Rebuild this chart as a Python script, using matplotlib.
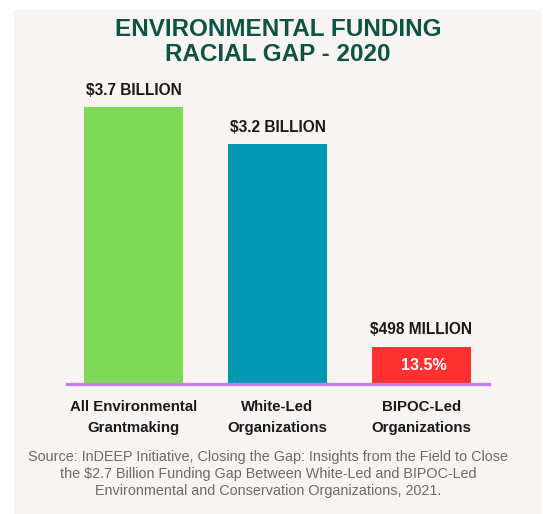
import matplotlib.pyplot as plt
from matplotlib.patches import Rectangle

plt.rcParams['font.family'] = ['Liberation Sans', 'DejaVu Sans']

# data
categories = ["All Environmental\nGrantmaking", "White-Led\nOrganizations", "BIPOC-Led\nOrganizations"]
funding_billion = [3.7, 3.2, 0.498]
value_labels = ["$3.7 BILLION", "$3.2 BILLION", "$498 MILLION"]
share_label = "13.5%"
bar_colors = ["#7ed957", "#0097b2", "#ff3131"]

title = "ENVIRONMENTAL FUNDING\nRACIAL GAP - 2020"
source = ("Source: InDEEP Initiative, Closing the Gap: Insights from the Field to Close\n"
          "the $2.7 Billion Funding Gap Between White-Led and BIPOC-Led\n"
          "Environmental and Conservation Organizations, 2021.")

W, H = 543, 514
fig = plt.figure(figsize=(W / 100, H / 100), dpi=100)
fig.patch.set_facecolor("white")

# light panel behind everything
fig.patches.append(Rectangle((14 / W, 0), (542 - 14) / W, (H - 10) / H,
                             transform=fig.transFigure, facecolor="#f8f4f2",
                             edgecolor="none", zorder=0))

# axes placed in pixel terms
left, right, base, top = 67, 489, 384, 80
ax = fig.add_axes([left / W, (H - base) / H, (right - left) / W, (base - top) / H])
ax.set_zorder(2)
ax.set_facecolor("none")
ax.set_xlim(-0.462, 2.469)
ax.set_ylim(0, 4.061)
ax.axis("off")

x = range(len(funding_billion))
ax.bar(x, funding_billion, width=0.69, color=bar_colors, zorder=2)
ax.axhline(0, color="#c77cf2", lw=2.3, zorder=3, clip_on=False)

for i, v in enumerate(funding_billion):
    ax.annotate(value_labels[i], (i, v), xytext=(0, 17), textcoords="offset pixels",
                ha="center", va="center", fontsize=11.2, fontweight="bold", color="#1a1a1a")
    ax.annotate(categories[i], (i, 0), xytext=(0, -16), textcoords="offset pixels",
                ha="center", va="top", fontsize=10.8, fontweight="bold", color="#1a1a1a",
                linespacing=1.6)

ax.annotate(share_label, (2, funding_billion[2] / 2), xytext=(2, 0), textcoords="offset pixels",
            ha="center", va="center", fontsize=11.5, fontweight="bold", color="white")

fig.text(278 / W, 1 - 42 / H, title, ha="center", va="center", fontsize=17.5,
         fontweight="bold", color="#0d5445", linespacing=1.12, zorder=3)

fig.text(268 / W, 1 - 474 / H, source, ha="center", va="center", fontsize=10.4,
         color="#6b6b6b", linespacing=1.25, zorder=3)

fig.savefig("out.png", dpi=100, facecolor=fig.get_facecolor())
